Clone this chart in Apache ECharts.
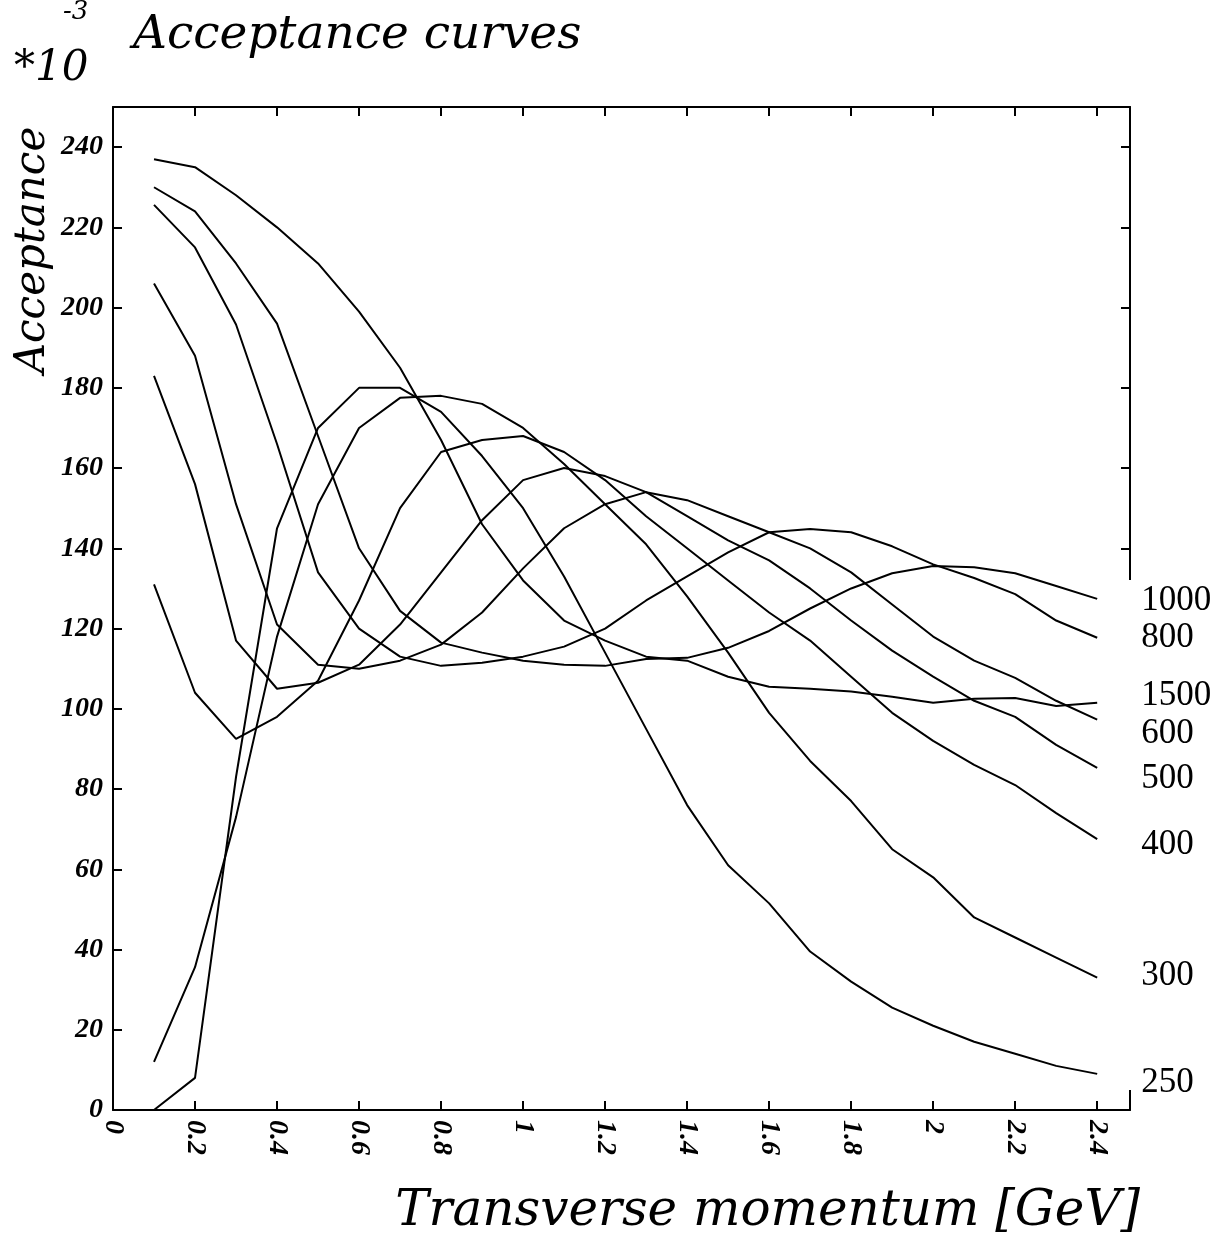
<!DOCTYPE html>
<html><head><meta charset="utf-8">
<script src="https://cdn.jsdelivr.net/npm/echarts@6/dist/echarts.min.js"></script>
<style>html,body{margin:0;padding:0;background:#fff}#c{width:1219px;height:1239px}</style>
</head><body><div id="c"></div>
<script>
const xValues = [0.1,0.2,0.3,0.4,0.5,0.6,0.7,0.8,0.9,1.0,1.1,1.2,1.3,1.4,1.5,1.6,1.7,1.8,1.9,2.0,2.1,2.2,2.3,2.4];
const s250  = [0,8,83,145,170,180,180,174,163,150,133,114,95,76,61,51.5,39.5,32,25.5,21,17,14,11,9];
const s300  = [12,35.6,73,118,151,170,177.5,178,176,170,161,151,141,128,114,99,87,77,65,58,48,43,38,33];
const s400  = [131,104,92.5,98,107,127,150,164,167,168,164,157,148,140,132,124,117,108,99,92,86,81,74,67.5];
const s500  = [183,156,117,105,106.5,111,121,134,147,157,160,158,154,148,142,137,130,122,114.5,108,102,98,91,85.3];
const s600  = [206,188,151,121,111,110,112,116,124,135,145,151,154,152,148,144,140,134,126,118,112,107.7,102,97.3];
const s800  = [225.6,215,195.8,166,134,120,113,110.7,111.5,113,115.5,120,127,133,139,144,144.8,144,140.5,136,132.6,128.6,122,117.7];
const s1000 = [230,224,211,196,168,140,124.4,116.5,114,112,111,110.7,112.4,112.7,115.2,119.4,125,130,133.8,135.6,135.3,133.8,130.6,127.4];
const s1500 = [237,235,228,220,211,199,185,167,146,132,122,117,113,112,108,105.5,105,104.3,103,101.5,102.5,102.7,100.7,101.5];
const seriesNames = ['1000','800','1500','600','500','400','300','250'];
const seriesData = [s1000,s800,s1500,s600,s500,s400,s300,s250];
const labelShift = [2,0,-7,14,11,6,-2,9];

const chart = echarts.init(document.getElementById('c'), null, {renderer:'canvas'});
const tickFont = {fontFamily:'Liberation Serif', fontStyle:'italic', fontWeight:'bold', fontSize:28, color:'#000'};
const lineStyle = {color:'#000', width:2};

const series = seriesNames.map((name,i)=>({
  name, type:'line', showSymbol:false, symbol:'none', smooth:false,
  lineStyle:{color:'#000', width:2},
  data: xValues.map((x,j)=>[x, seriesData[i][j]]),
  endLabel:{show:true, formatter:name, distance:44, offset:[0,labelShift[i]],
    fontFamily:'Liberation Serif', fontSize:35, color:'#000'},
  z: 3
}));

chart.setOption({
  animation:false,
  backgroundColor:'#fff',
  grid:{left:113, right:89, top:107, bottom:129},
  xAxis:[
    {type:'value', min:0, max:2.48, interval:0.2, position:'bottom',
     axisLine:{onZero:false, lineStyle}, axisTick:{inside:true, length:9, lineStyle},
     splitLine:{show:false},
     axisLabel:Object.assign({rotate:-90, margin:10, showMaxLabel:false}, tickFont)},
    {type:'value', min:0, max:2.48, interval:0.2, position:'top',
     axisLine:{onZero:false, lineStyle}, axisTick:{inside:true, length:9, lineStyle},
     splitLine:{show:false}, axisLabel:{show:false}}
  ],
  yAxis:[
    {type:'value', min:0, max:250, interval:20, position:'left',
     axisLine:{show:true, onZero:false, lineStyle}, axisTick:{show:true, inside:true, length:9, lineStyle},
     splitLine:{show:false},
     axisLabel:Object.assign({margin:10, showMaxLabel:false}, tickFont)},
    {type:'value', min:0, max:250, interval:20, position:'right',
     axisLine:{show:true, onZero:false, lineStyle}, axisTick:{show:true, inside:true, length:9, lineStyle},
     splitLine:{show:false}, axisLabel:{show:false}}
  ],
  series,
  graphic:[
    {type:'rect', shape:{x:1119, y:580, width:20, height:510}, style:{fill:'#fff'}, z:50},
    {type:'text', x:133, y:12, style:{text:'Acceptance curves', font:'italic 47px "DejaVu Serif"', fill:'#000'}, z:60},
    {type:'text', x:63, y:-1, style:{text:'-3', font:'italic 26px "DejaVu Serif"', fill:'#000'}, z:60},
    {type:'text', x:14, y:48, style:{text:'*10', font:'italic 42px "DejaVu Serif"', fill:'#000'}, z:60},
    {type:'text', x:33, y:250, rotation:Math.PI/2, style:{text:'Acceptance', font:'italic 42px "DejaVu Serif"', fill:'#000', align:'center', verticalAlign:'middle'}, z:60},
    {type:'text', x:1140, y:1212, style:{text:'Transverse momentum [GeV]', font:'italic 50px "DejaVu Serif"', fill:'#000', align:'right', verticalAlign:'middle'}, z:60}
  ]
});
</script></body></html>
